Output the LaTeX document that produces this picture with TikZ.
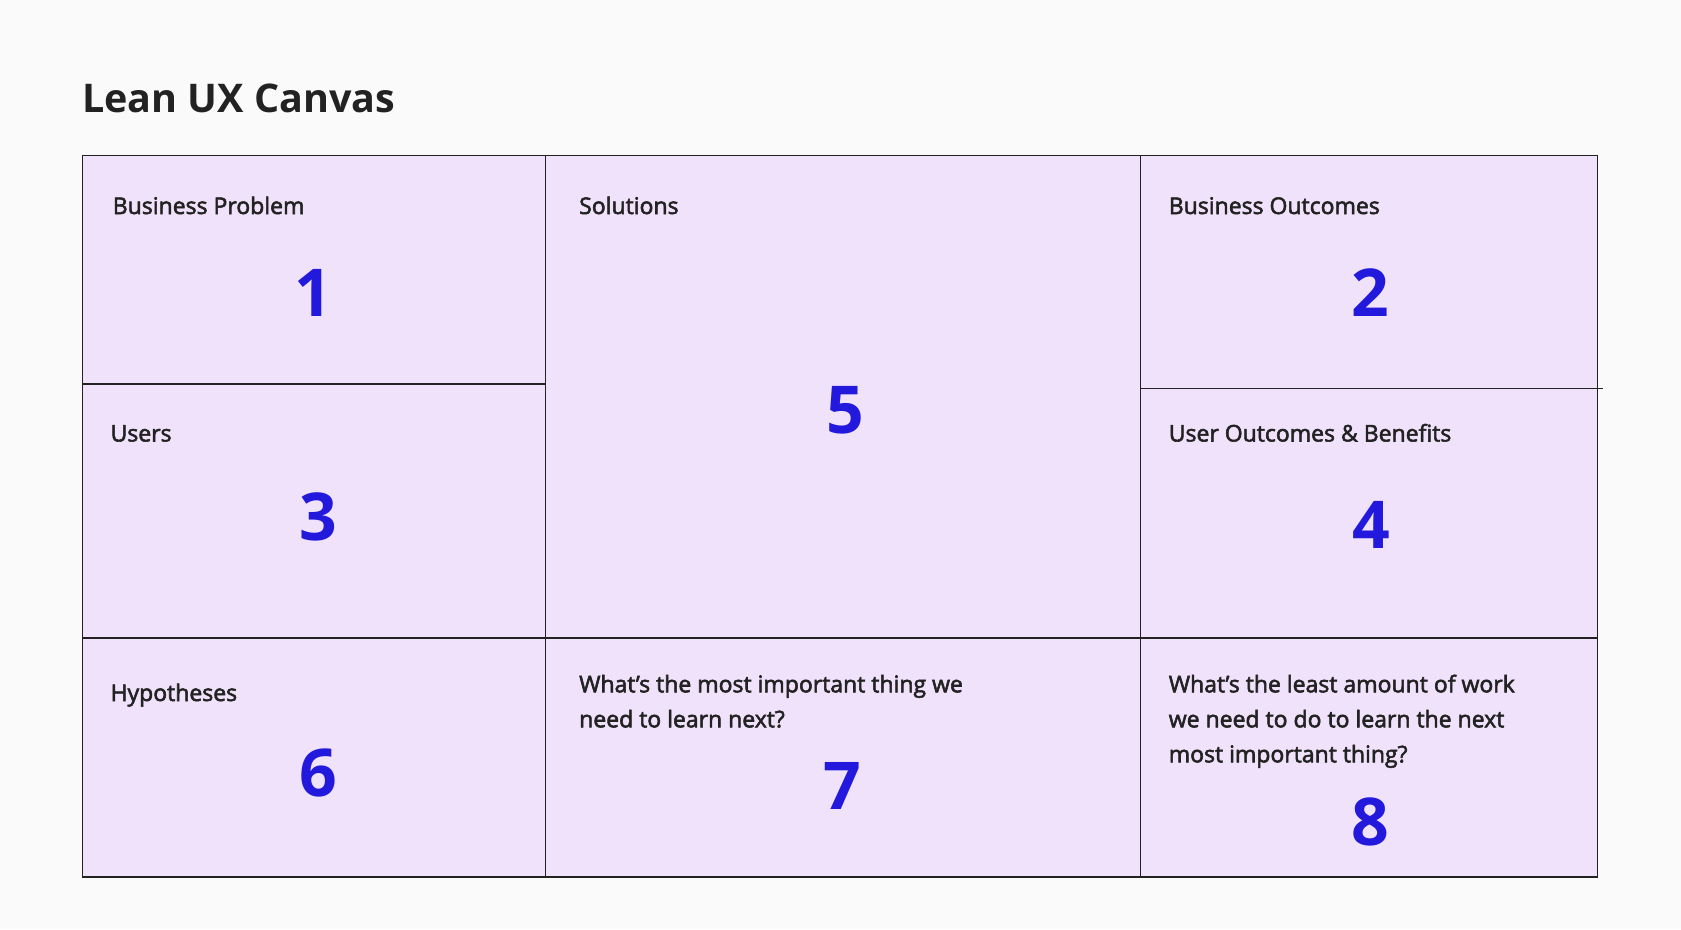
\documentclass[tikz,border=0pt]{standalone}
\usepackage{fontspec}
\setmainfont{Open Sans}
\definecolor{bgc}{HTML}{FAFAFA}
\definecolor{cellc}{HTML}{F0E2FA}
\definecolor{inkc}{HTML}{222222}
\definecolor{numc}{HTML}{2219DD}
\newcommand{\lines}[1]{\vtop{\halign{##\hfil\cr#1\crcr}}}
\newcommand{\heavier}[1]{\special{pdf:code 2 Tr 0.55 w}#1\special{pdf:code 0 Tr 1 w}}
\tikzset{
  gridline/.style={draw=inkc, line width=1.4pt},
  lbl/.style={anchor=base west, inner sep=0pt, text=inkc, font=\fontsize{23}{35}\selectfont},
  num/.style={anchor=base, inner sep=0pt, text=numc, font=\bfseries\fontsize{66}{70}\selectfont},
  ttl/.style={anchor=base west, inner sep=0pt, text=inkc, font=\bfseries\fontsize{39.5}{48}\selectfont}
}
\begin{document}
\begin{tikzpicture}[x=1pt,y=-1pt]
\fill[bgc] (0,0) rectangle (1681,929);
\useasboundingbox (0,0) rectangle (1681,929);
\node[ttl] (title) at (82,112.7) {Lean UX Canvas};
% grid
\fill[cellc] (82.6,155.6) rectangle (1597.3,877);
\draw[gridline] (82.6,155.6) rectangle (1597.3,877);
\draw[gridline] (545.7,155.6) -- (545.7,877);
\draw[gridline] (1140.7,155.6) -- (1140.7,877);
\draw[gridline] (82.6,384) -- (545.7,384);
\draw[gridline] (1140.7,388.3) -- (1602.5,388.3);
\draw[gridline] (82.6,637.9) -- (1597.3,637.9);
% labels
\node[lbl] (l1) at (112.6,214) {\heavier{Business Problem}};
\node[lbl] (l5) at (579,214) {\heavier{Solutions}};
\node[lbl] (l2) at (1168.6,214) {\heavier{Business Outcomes}};
\node[lbl] (l3) at (110.4,441.5) {\heavier{Users}};
\node[lbl] (l4) at (1168.6,441.5) {\heavier{User Outcomes \& Benefits}};
\node[lbl] (l6) at (110.4,701) {\heavier{Hypotheses}};
\node[lbl] (l7) at (579,692.3) {\heavier{\lines{What’s the most important thing we\cr need to learn next?}}};
\node[lbl] (l8) at (1168.6,692.3) {\heavier{\lines{What’s the least amount of work\cr we need to do to learn the next\cr most important thing?}}};
% numbers
\node[num] (n1) at (313,316) {1};
\node[num] (n2) at (1370,316) {2};
\node[num] (n3) at (318.4,540) {3};
\node[num] (n4) at (1371,548) {4};
\node[num] (n5) at (845,433) {5};
\node[num] (n6) at (318.4,796.5) {6};
\node[num] (n7) at (842.7,809) {7};
\node[num] (n8) at (1370,845) {8};
\end{tikzpicture}
\end{document}
